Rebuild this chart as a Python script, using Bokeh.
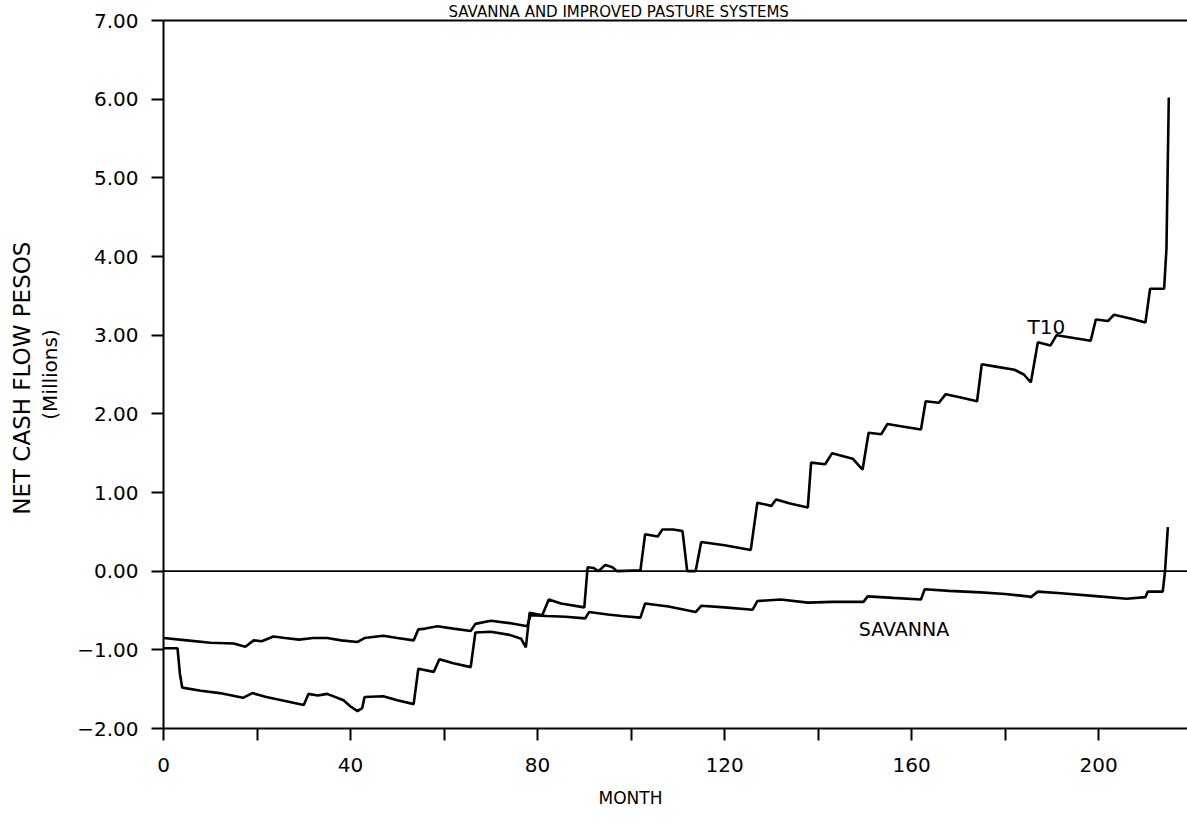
from bokeh.plotting import figure
from bokeh.models import Range1d, FixedTicker, LinearAxis, Span, Label, Title
from bokeh.embed import file_html
from bokeh.resources import INLINE

# Net cash flow (millions of pesos) by month
t10_month = [0, 3, 3.5, 4, 8, 12, 17, 19, 22, 26, 30, 31, 33, 35, 38.5, 40, 41.5, 42.5,
             43, 47, 50, 53.5, 54.5, 57.8, 59, 62, 65.7, 66.7, 70, 74, 76.5, 77.5, 78.3,
             81, 82.4, 85, 90, 90.7, 92, 93, 94.5, 96, 97, 102, 103, 105.7, 106.7, 109,
             111, 112, 113.8, 115, 120, 125.6, 127, 130, 131, 134, 137.8, 138.5, 141.5,
             143, 147.4, 149.5, 150.8, 153.5, 154.8, 158, 162, 163, 165.8, 167.3, 171,
             174, 175, 178, 182, 184, 185.5, 187, 189.7, 191, 195, 198.3, 199.4, 202,
             203.3, 207, 210, 211, 214, 214.5, 215]
t10_value = [-0.98, -0.98, -1.30, -1.48, -1.52, -1.55, -1.61, -1.55, -1.60, -1.65, -1.70,
             -1.56, -1.58, -1.56, -1.64, -1.72, -1.78, -1.74, -1.60, -1.59, -1.64, -1.69,
             -1.24, -1.28, -1.12, -1.17, -1.22, -0.78, -0.77, -0.81, -0.86, -0.97, -0.53,
             -0.56, -0.36, -0.41, -0.46, 0.05, 0.04, 0.00, 0.08, 0.05, 0.00, 0.01, 0.47,
             0.44, 0.53, 0.53, 0.51, 0.00, 0.00, 0.37, 0.33, 0.27, 0.87, 0.83, 0.91, 0.86,
             0.81, 1.38, 1.36, 1.50, 1.43, 1.29, 1.76, 1.74, 1.87, 1.84, 1.80, 2.16, 2.14,
             2.25, 2.20, 2.16, 2.63, 2.60, 2.56, 2.50, 2.40, 2.91, 2.87, 3.00, 2.96, 2.93,
             3.20, 3.18, 3.26, 3.21, 3.16, 3.59, 3.59, 4.10, 6.02]

savanna_month = [0, 5, 10, 15, 17.5, 19.3, 21, 23.5, 26, 29, 32, 35, 38, 41.5, 43, 47, 50,
                 53.5, 54.5, 56, 58.6, 62, 65.7, 66.7, 70, 74, 77.8, 78.5, 82, 86, 90.2, 91,
                 95, 98, 102, 103, 108, 113.8, 115, 120, 126, 127, 132, 137.8, 143, 149.7,
                 150.6, 156, 162, 162.8, 168, 174.8, 180, 184.8, 185.5, 187, 192, 200, 206,
                 210, 210.5, 213.7, 214.2, 214.8]
savanna_value = [-0.85, -0.88, -0.91, -0.92, -0.96, -0.88, -0.89, -0.83, -0.85, -0.87, -0.85,
                 -0.85, -0.88, -0.90, -0.85, -0.82, -0.85, -0.88, -0.74, -0.73, -0.70, -0.73,
                 -0.76, -0.67, -0.63, -0.66, -0.70, -0.56, -0.57, -0.58, -0.60, -0.52, -0.55,
                 -0.57, -0.59, -0.41, -0.45, -0.52, -0.44, -0.46, -0.49, -0.38, -0.36, -0.40,
                 -0.39, -0.39, -0.32, -0.34, -0.36, -0.23, -0.25, -0.27, -0.29, -0.32, -0.33,
                 -0.26, -0.28, -0.32, -0.35, -0.33, -0.26, -0.26, 0.00, 0.56]

y_ticks = [-2, -1, 0, 1, 2, 3, 4, 5, 6, 7]
y_tick_labels = ["\u22122.00", "\u22121.00", "0.00", "1.00", "2.00", "3.00", "4.00",
                 "5.00", "6.00", "7.00"]
x_ticks = [0, 20, 40, 60, 80, 100, 120, 140, 160, 180, 200]
x_tick_labels = ["0", "", "40", "", "80", "", "120", "", "160", "", "200"]

FONT = "DejaVu Sans"

p = figure(width=1187, height=825, output_backend="svg", toolbar_location=None,
           x_range=Range1d(0, 219), y_range=Range1d(-2, 7),
           min_border_left=163, min_border_right=0, min_border_top=20,
           min_border_bottom=97)
p.background_fill_color = "white"
p.border_fill_color = "white"
p.outline_line_color = None
p.xgrid.visible = False
p.ygrid.visible = False

for ax in (p.xaxis[0], p.yaxis[0]):
    ax.axis_line_width = 2
    ax.axis_line_color = "black"
    ax.major_tick_line_width = 2
    ax.major_tick_line_color = "black"
    ax.major_tick_in = 0
    ax.major_tick_out = 12
    ax.minor_tick_line_color = None
    ax.major_label_text_font = FONT
    ax.major_label_text_font_size = "20px"
    ax.major_label_text_color = "black"
    ax.major_label_standoff = 13

p.yaxis[0].ticker = FixedTicker(ticks=y_ticks)
p.yaxis[0].major_label_overrides = dict(zip(y_ticks, y_tick_labels))
p.yaxis[0].axis_label = "(Millions)"
p.yaxis[0].axis_label_text_font = FONT
p.yaxis[0].axis_label_text_font_size = "20px"
p.yaxis[0].axis_label_text_font_style = "normal"
p.yaxis[0].axis_label_text_color = "black"
p.yaxis[0].axis_label_standoff = 12

p.xaxis[0].ticker = FixedTicker(ticks=x_ticks)
p.xaxis[0].major_label_overrides = dict(zip(x_ticks, x_tick_labels))
p.xaxis[0].major_label_standoff = 17

# top border line of the plotting area
top = LinearAxis(ticker=FixedTicker(ticks=[]), axis_line_width=2, axis_line_color="black",
                 major_label_text_alpha=0, major_tick_line_color=None,
                 major_tick_out=0, major_tick_in=0, major_label_standoff=0,
                 minor_tick_line_color=None)
p.add_layout(top, "above")

# chart heading, x title and main y title
p.title = Title(text="SAVANNA AND IMPROVED PASTURE SYSTEMS", text_font=FONT,
                text_font_size="15px", text_font_style="normal", text_color="black",
                align="left", offset=285, standoff=0)
p.add_layout(Title(text="MONTH", text_font=FONT, text_font_size="17px",
                   text_font_style="normal", text_color="black", align="left",
                   offset=435, standoff=22), "below")
p.add_layout(Title(text="NET CASH FLOW  PESOS", text_font=FONT, text_font_size="23px",
                   text_font_style="normal", text_color="black", align="center",
                   standoff=2), "left")

# zero reference line
p.add_layout(Span(location=0, dimension="width", line_color="black", line_width=1.6))

p.line(t10_month, t10_value, line_color="black", line_width=2.6)
p.line(savanna_month, savanna_value, line_color="black", line_width=2.6)

p.add_layout(Label(x=184.8, y=3.10, text="T10", text_font=FONT, text_font_size="20px",
                   text_color="black", text_baseline="alphabetic"))
p.add_layout(Label(x=148.7, y=-0.74, text="SAVANNA", text_font=FONT,
                   text_font_size="19px", text_color="black", text_baseline="alphabetic"))

open("out.html", "w").write(file_html(p, INLINE))
